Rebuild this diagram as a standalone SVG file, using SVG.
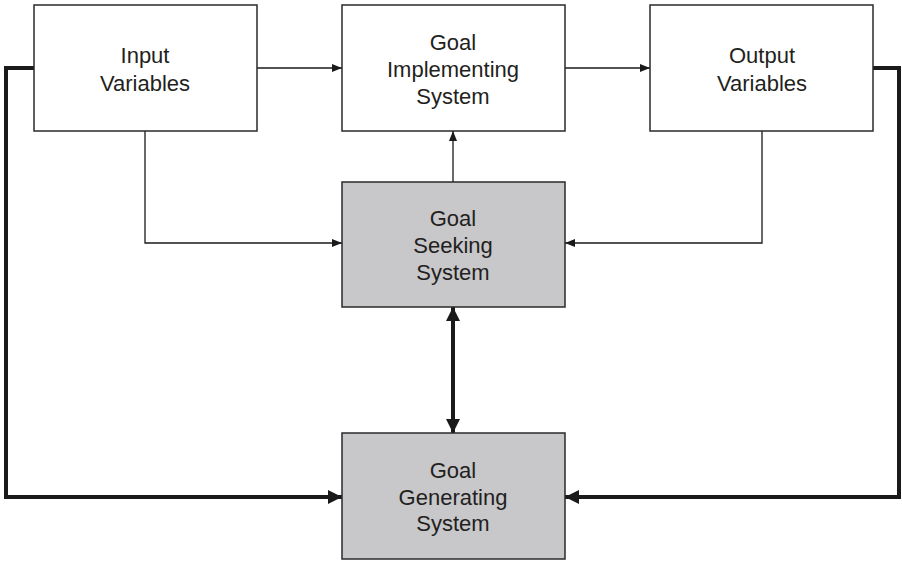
<svg xmlns="http://www.w3.org/2000/svg" width="902" height="561" viewBox="0 0 902 561">
  <style>
    .box { fill: #ffffff; stroke: #2a2a2a; stroke-width: 1.5; }
    .shaded { fill: #c8c8ca; }
    .label { font-family: "Liberation Sans", Arial, sans-serif; font-size: 22px; fill: #231f20; text-anchor: middle; }
    .thin { fill: none; stroke: #1a1a1a; stroke-width: 1.3; }
    .thick { fill: none; stroke: #1a1a1a; stroke-width: 4; }
  </style>
  <defs>
    <marker id="arrowThin" viewBox="0 0 10 8" refX="10" refY="4" markerWidth="10" markerHeight="8" markerUnits="userSpaceOnUse" orient="auto">
      <path d="M0,0 L10,4 L0,8 Z" fill="#1a1a1a"/>
    </marker>
    <marker id="arrowThick" viewBox="0 0 14 14" refX="14" refY="7" markerWidth="14" markerHeight="14" markerUnits="userSpaceOnUse" orient="auto-start-reverse">
      <path d="M0,0 L14,7 L0,14 Z" fill="#1a1a1a"/>
    </marker>
  </defs>

  <!-- connectors -->
  <g id="connectors">
    <path class="thin" d="M257,68 H342" marker-end="url(#arrowThin)"/>
    <path class="thin" d="M565,68 H650" marker-end="url(#arrowThin)"/>
    <path class="thin" d="M453,182 V131" marker-end="url(#arrowThin)"/>
    <path class="thin" d="M145,131 V243 H342" marker-end="url(#arrowThin)"/>
    <path class="thin" d="M762,131 V243 H565" marker-end="url(#arrowThin)"/>
    <path class="thick" d="M453,307 V433" marker-start="url(#arrowThick)" marker-end="url(#arrowThick)"/>
    <path class="thick" d="M34,68 H6 V497 H342" marker-end="url(#arrowThick)"/>
    <path class="thick" d="M873,68 H899 V497 H565" marker-end="url(#arrowThick)"/>
  </g>

  <g id="input-variables">
    <rect class="box" x="34" y="5" width="223" height="126"/>
    <text class="label" x="145" y="63">Input</text>
    <text class="label" x="145" y="91">Variables</text>
  </g>

  <g id="goal-implementing-system">
    <rect class="box" x="342" y="5" width="223" height="126"/>
    <text class="label" x="453" y="50">Goal</text>
    <text class="label" x="453" y="77">Implementing</text>
    <text class="label" x="453" y="104">System</text>
  </g>

  <g id="output-variables">
    <rect class="box" x="650" y="5" width="223" height="126"/>
    <text class="label" x="762" y="63">Output</text>
    <text class="label" x="762" y="91">Variables</text>
  </g>

  <g id="goal-seeking-system">
    <rect class="box shaded" x="342" y="182" width="223" height="125"/>
    <text class="label" x="453" y="226">Goal</text>
    <text class="label" x="453" y="253">Seeking</text>
    <text class="label" x="453" y="280">System</text>
  </g>

  <g id="goal-generating-system">
    <rect class="box shaded" x="342" y="433" width="223" height="126"/>
    <text class="label" x="453" y="478">Goal</text>
    <text class="label" x="453" y="505">Generating</text>
    <text class="label" x="453" y="531">System</text>
  </g>
</svg>
